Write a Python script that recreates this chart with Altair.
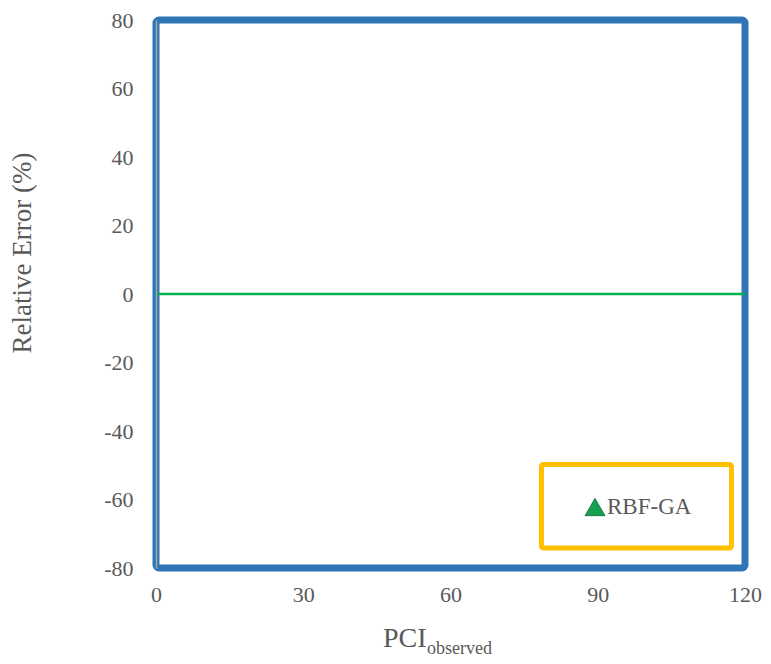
import altair as alt
import pandas as pd

# data
series_name = ["RBF-GA"]
zero_x = [0, 120]
zero_y = [0, 0]
x_ticks = [0, 30, 60, 90, 120]
y_ticks = [-80, -60, -40, -20, 0, 20, 40, 60, 80]
x_title_main = ["PCI"]
x_title_sub = ["observed"]
y_title = ["Relative Error (%)"]

W, H = 589, 548
FONT = "Liberation Serif"
GRAY = "#595959"

line_df = pd.DataFrame({"x": zero_x, "y": zero_y})
one = pd.DataFrame({"name": series_name})

xs = alt.Scale(domain=[0, 120], nice=False, zero=False)
ys = alt.Scale(domain=[-80, 80], nice=False, zero=False)

frame = alt.Chart(one).mark_rect(
    fillOpacity=0, stroke="#2E75B6", strokeWidth=7, cornerRadius=3
).encode(x=alt.value(0), x2=alt.value(W), y=alt.value(0), y2=alt.value(H))

zero = alt.Chart(line_df).mark_line(color="#00B050", strokeWidth=2.5).encode(
    x=alt.X("x:Q", scale=xs,
            axis=alt.Axis(values=x_ticks, title=None, grid=False, ticks=False,
                          domain=False, labelPadding=16, labelFontSize=22,
                          labelFlush=False, labelExpr="toString(datum.value)",
                          labelFont=FONT, labelColor=GRAY)),
    y=alt.Y("y:Q", scale=ys,
            axis=alt.Axis(values=y_ticks, title=None, grid=False, ticks=False,
                          domain=True, domainColor="#A6A6A6", domainWidth=1.5,
                          labelExpr="toString(datum.value)",
                          zindex=1, labelPadding=23, labelFontSize=22,
                          labelFont=FONT, labelColor=GRAY)),
)

legend_box = alt.Chart(one).mark_rect(
    fill="white", stroke="#FFC000", strokeWidth=5, cornerRadius=2
).encode(x=alt.value(385.5), x2=alt.value(575.5), y=alt.value(444.5), y2=alt.value(528))

legend_sym = alt.Chart(one).mark_point(
    shape="triangle-up", filled=True, size=400, fill="#17A050", stroke="#0B6E35",
    strokeWidth=0.8, opacity=1
).encode(x=alt.value(439), y=alt.value(487))

legend_txt = alt.Chart(one).mark_text(
    align="left", baseline="alphabetic", font=FONT, fontSize=23, color=GRAY
).encode(x=alt.value(451), y=alt.value(494), text="name:N")

xt_main = alt.Chart(pd.DataFrame({"t": x_title_main})).mark_text(
    align="left", baseline="alphabetic", font=FONT, fontSize=28, color=GRAY
).encode(x=alt.value(227), y=alt.value(627), text="t:N")

xt_sub = alt.Chart(pd.DataFrame({"t": x_title_sub})).mark_text(
    align="left", baseline="alphabetic", font=FONT, fontSize=18, color=GRAY
).encode(x=alt.value(271), y=alt.value(634), text="t:N")

yt = alt.Chart(pd.DataFrame({"t": y_title})).mark_text(
    align="center", baseline="alphabetic", font=FONT, fontSize=27, color=GRAY, angle=270
).encode(x=alt.value(-125), y=alt.value(233), text="t:N")

chart = alt.layer(frame, zero, legend_box, legend_sym, legend_txt, xt_main, xt_sub, yt).properties(
    width=W, height=H,
    autosize=alt.AutoSizeParams(type="none"),
    padding={"left": 148, "top": 12, "right": 18, "bottom": 95},
).configure_view(strokeWidth=0).configure_axis(
    labelFont=FONT, labelColor=GRAY, labelFontSize=22
)

chart.save("out.html", embed_options={"renderer": "svg", "actions": False})
